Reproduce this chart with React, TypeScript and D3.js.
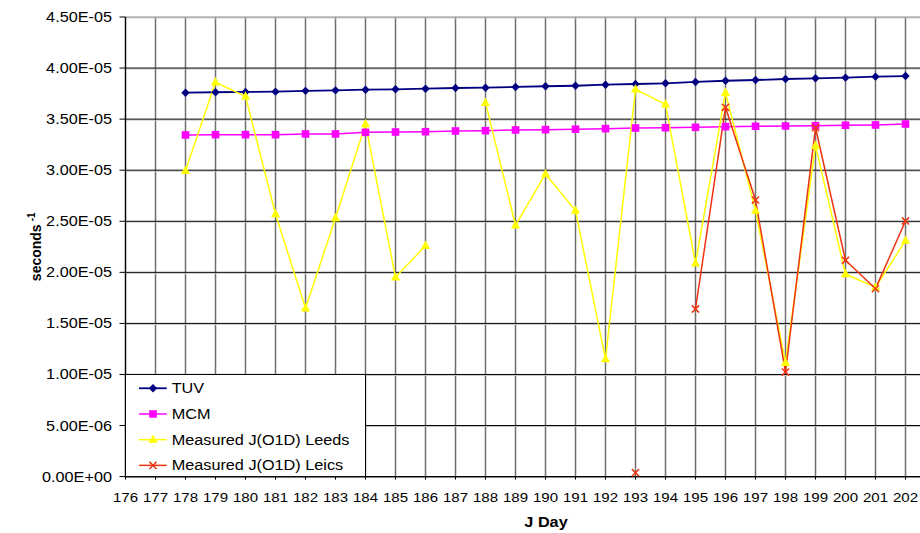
import React from "react";
import * as d3 from "d3";

// ---- data (values in units of 1e-5 s^-1) ----
const jDays = [178, 179, 180, 181, 182, 183, 184, 185, 186, 187, 188, 189, 190, 191, 192, 193, 194, 195, 196, 197, 198, 199, 200, 201, 202];
const tuv = [3.759, 3.763, 3.766, 3.769, 3.777, 3.782, 3.788, 3.792, 3.798, 3.805, 3.808, 3.815, 3.822, 3.827, 3.837, 3.844, 3.851, 3.864, 3.876, 3.883, 3.893, 3.9, 3.906, 3.916, 3.922];
const mcm = [3.345, 3.348, 3.348, 3.348, 3.355, 3.355, 3.371, 3.374, 3.377, 3.384, 3.387, 3.394, 3.397, 3.401, 3.407, 3.413, 3.416, 3.42, 3.426, 3.43, 3.433, 3.436, 3.44, 3.443, 3.452];
const leeds: (number | null)[] = [2.995, 3.861, 3.723, 2.571, 1.648, 2.532, 3.452, 1.951, 2.261, null, 3.661, 2.46, 2.963, 2.604, 1.15, 3.792, 3.645, 2.088, 3.759, 2.604, 1.115, 3.24, 1.984, 1.853, 2.31];
const leics: (number | null)[] = [null, null, null, null, null, null, null, null, null, null, null, null, null, null, null, 0.038, null, 1.641, 3.616, 2.708, 1.024, 3.416, 2.118, 1.84, 2.503];
const UNIT = 1e-5;

const xTickDays = [176, 177, 178, 179, 180, 181, 182, 183, 184, 185, 186, 187, 188, 189, 190, 191, 192, 193, 194, 195, 196, 197, 198, 199, 200, 201, 202];
const yTickValues = [0, 0.5e-5, 1.0e-5, 1.5e-5, 2.0e-5, 2.5e-5, 3.0e-5, 3.5e-5, 4.0e-5, 4.5e-5];
const yTickLabels = ["0.00E+00", "5.00E-06", "1.00E-05", "1.50E-05", "2.00E-05", "2.50E-05", "3.00E-05", "3.50E-05", "4.00E-05", "4.50E-05"];

const seriesNames = ["TUV", "MCM", "Measured J(O1D) Leeds", "Measured J(O1D) Leics"];

// ---- layout ----
const W = 920, H = 533;
const left = 125.5, right = 920, top = 17, bottom = 476.6;
const FONT = "Arial, 'Liberation Sans', sans-serif";
const SX = 1.16; // horizontal text stretch of the original image

const x = d3.scaleLinear().domain([176, 202]).range([left, 905.5]);
const y = d3.scaleLinear().domain([0, 4.5e-5]).range([bottom, top]);

type Pt = { d: number; v: number | null };
const toPts = (arr: (number | null)[]): Pt[] => jDays.map((d, i) => ({ d, v: arr[i] == null ? null : (arr[i] as number) * UNIT }));

const lineGen = d3
  .line<Pt>()
  .defined((p) => p.v != null)
  .x((p) => x(p.d))
  .y((p) => y(p.v as number));

const diamond = "M0,-4.2L4.2,0L0,4.2L-4.2,0Z";
const square = "M-3.8,-3.8H3.8V3.8H-3.8Z";
const triangle = "M0,-5.2L4.6,3.2L-4.6,3.2Z";
const cross = "M-3.6,-3.6L3.6,3.6M-3.6,3.6L3.6,-3.6";

const series = [
  { name: seriesNames[0], data: toPts(tuv), color: "#000080", lw: 1.8, marker: diamond, fill: "#000080", stroke: "none" },
  { name: seriesNames[1], data: toPts(mcm), color: "#FF00FF", lw: 1.5, marker: square, fill: "#FF00FF", stroke: "none" },
  { name: seriesNames[2], data: toPts(leeds), color: "#FFFF00", lw: 1.5, marker: triangle, fill: "#FFFF00", stroke: "none" },
  { name: seriesNames[3], data: toPts(leics), color: "#EE3311", lw: 1.5, marker: cross, fill: "none", stroke: "#EE3311" },
];

export default function App() {
  const legendX = left, legendY = y(1.0e-5), legendW = x(184) - left, legendH = bottom - legendY;
  return (
    <svg width={W} height={H} style={{ position: "absolute", left: 0, top: 0, background: "#fff" }} fontFamily={FONT}>
      <rect x={0} y={0} width={W} height={H} fill="#fff" />
      {/* vertical gridlines */}
      {xTickDays.map((d) => (
        <line key={"vg" + d} x1={x(d)} x2={x(d)} y1={top} y2={bottom} stroke="#6f6f6f" strokeWidth={1.5} />
      ))}
      {/* horizontal gridlines */}
      {yTickValues.map((v, i) => (
        <g key={"hg" + i}>
          <line x1={left} x2={right} y1={y(v) + 1} y2={y(v) + 1} stroke="#c8c8c8" strokeWidth={1} />
          <line x1={left} x2={right} y1={y(v)} y2={y(v)} stroke={i === yTickValues.length - 1 ? "#8a8a8a" : "#000"} strokeWidth={1} />
        </g>
      ))}
      {/* axes */}
      <line x1={left} x2={left} y1={top} y2={bottom} stroke="#000" strokeWidth={1.2} />
      <line x1={left} x2={right} y1={bottom} y2={bottom} stroke="#000" strokeWidth={1.2} />
      {yTickValues.map((v, i) => (
        <line key={"yt" + i} x1={left - 6} x2={left} y1={y(v)} y2={y(v)} stroke="#000" strokeWidth={1} />
      ))}
      {xTickDays.map((d) => (
        <line key={"xt" + d} x1={x(d)} x2={x(d)} y1={bottom} y2={bottom + 3} stroke="#000" strokeWidth={1} />
      ))}
      {/* y tick labels */}
      {yTickValues.map((v, i) => (
        <text key={"yl" + i} transform={`translate(112,${y(v) + 5}) scale(${SX},1)`} textAnchor="end" fontSize={14} fill="#000">
          {yTickLabels[i]}
        </text>
      ))}
      {/* x tick labels */}
      {xTickDays.map((d) => (
        <text key={"xl" + d} transform={`translate(${x(d)},${501.5}) scale(${SX},1)`} textAnchor="middle" fontSize={13} fill="#000">
          {d}
        </text>
      ))}
      {/* axis titles */}
      <text transform={`translate(546,526.5) scale(${SX},1)`} textAnchor="middle" fontSize={14} fontWeight="bold">
        J Day
      </text>
      <text transform={`translate(40.5,${(top + bottom) / 2}) rotate(-90)`} textAnchor="middle" fontSize={14} fontWeight="bold">
        seconds
        <tspan fontSize={10} dy={-6} dx={3}>-1</tspan>
      </text>
      {/* series lines */}
      {series.map((s) => (
        <path key={"l" + s.name} d={lineGen(s.data) || ""} fill="none" stroke={s.color} strokeWidth={s.lw} strokeLinejoin="round" />
      ))}
      {/* markers */}
      {series.map((s) =>
        s.data
          .filter((p) => p.v != null)
          .map((p) => (
            <path
              key={"m" + s.name + p.d}
              d={s.marker}
              transform={`translate(${x(p.d)},${y(p.v as number)})`}
              fill={s.fill}
              stroke={s.stroke}
              strokeWidth={1.5}
            />
          ))
      )}
      {/* legend */}
      <rect x={legendX} y={legendY} width={legendW} height={legendH} fill="#fff" stroke="#000" strokeWidth={1} />
      {series.map((s, i) => {
        const cy = legendY + 13.8 + i * 25.7;
        return (
          <g key={"lg" + s.name}>
            <line x1={139} x2={166.7} y1={cy} y2={cy} stroke={s.color} strokeWidth={s.lw} />
            <path d={s.marker} transform={`translate(153,${cy})`} fill={s.fill} stroke={s.stroke} strokeWidth={1.5} />
            <text transform={`translate(171.7,${cy + 5}) scale(${SX},1)`} fontSize={14} fill="#000">
              {s.name}
            </text>
          </g>
        );
      })}
    </svg>
  );
}
